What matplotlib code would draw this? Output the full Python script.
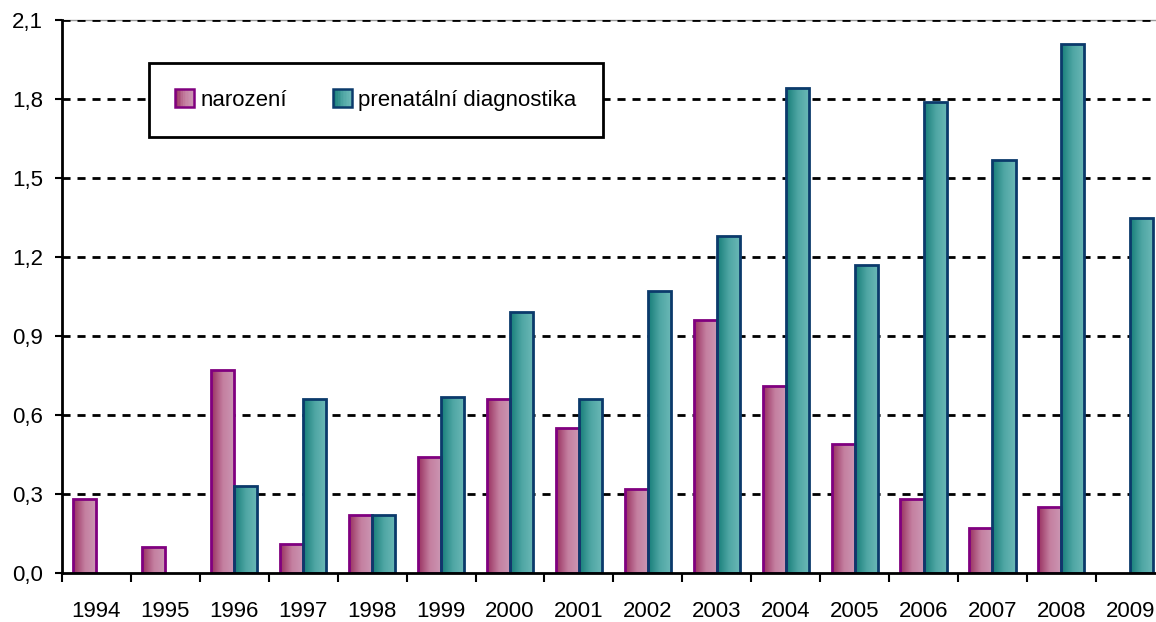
import matplotlib
matplotlib.use("Agg")
import matplotlib.pyplot as plt
import numpy as np
from matplotlib.colors import LinearSegmentedColormap
from matplotlib.legend_handler import HandlerBase
from matplotlib.patches import Rectangle
from matplotlib.ticker import FuncFormatter

plt.rcParams['font.family'] = ['Liberation Sans', 'DejaVu Sans']

years = ['1994', '1995', '1996', '1997', '1998', '1999', '2000', '2001',
         '2002', '2003', '2004', '2005', '2006', '2007', '2008', '2009']
narozeni = [0.28, 0.10, 0.77, 0.11, 0.22, 0.44, 0.66, 0.55,
            0.32, 0.96, 0.71, 0.49, 0.28, 0.17, 0.25, 0.0]
prenatalni = [0.0, 0.0, 0.33, 0.66, 0.22, 0.67, 0.99, 0.66,
              1.07, 1.28, 1.84, 1.17, 1.79, 1.57, 2.01, 1.35]
labels = ['narození', 'prenatální diagnostika']

# barvy: přechod zleva (tmavší) doprava (světlejší)
pink_cmap = LinearSegmentedColormap.from_list('pink', ['#98305f', '#c47fa0', '#cc98b4'])
teal_cmap = LinearSegmentedColormap.from_list('teal', ['#167d78', '#4fa6a4', '#6cb9b7'])
pink_edge = '#80007f'
teal_edge = '#0b3a6b'

fig = plt.figure(figsize=(11.56, 6.22), dpi=100)
ax = fig.add_axes([0.0536, 0.0788, 0.954, 0.889])

x = np.arange(len(years))
w = 0.335
grad = np.linspace(0, 1, 64).reshape(1, -1)


def gradient_bars(xpos, vals, cmap, edge):
    bars = ax.bar(xpos, vals, w, color='none', edgecolor=edge, linewidth=2.0, zorder=4)
    for b in bars:
        if b.get_height() <= 0:
            b.set_visible(False)
            continue
        x0, y0 = b.get_x(), b.get_y()
        im = ax.imshow(grad, cmap=cmap, aspect='auto', interpolation='bilinear',
                       extent=(x0, x0 + b.get_width(), y0, y0 + b.get_height()), zorder=3)
        im.set_clip_path(b)
    return bars


gradient_bars(x - w / 2, narozeni, pink_cmap, pink_edge)
gradient_bars(x + w / 2, prenatalni, teal_cmap, teal_edge)

ax.set_xlim(-0.5, len(years) - 0.5)
ax.set_ylim(0, 2.1)

# mřížka
for v in np.arange(0.3, 2.11, 0.3):
    ax.axhline(v, color='black', lw=2.0, linestyle=(0, (2.9, 2.5)), zorder=2)
ax.axhline(2.1, color='#9a9a9a', lw=1.0, zorder=1, clip_on=False)

for s in ['top', 'right']:
    ax.spines[s].set_visible(False)
ax.spines['left'].set_linewidth(2)
ax.spines['bottom'].set_linewidth(2)
ax.spines['left'].set_zorder(5)
ax.spines['bottom'].set_zorder(5)

ax.set_yticks(np.arange(0, 2.11, 0.3))
ax.yaxis.set_major_formatter(FuncFormatter(lambda v, p: f'{v:.1f}'.replace('.', ',')))
ax.tick_params(axis='y', direction='out', length=5, width=1.5, labelsize=16, pad=8.5)

ax.set_xticks(x)
ax.set_xticklabels(years)
ax.set_xticks(np.arange(-0.5, len(years) - 0.4, 1), minor=True)
ax.tick_params(axis='x', which='major', length=0, labelsize=16, pad=20)
ax.tick_params(axis='x', which='minor', direction='out', length=6.5, width=1.5)


class GradientHandler(HandlerBase):
    def __init__(self, cmap, edge):
        super().__init__()
        self.cmap = cmap
        self.edge = edge

    def create_artists(self, legend, orig_handle, xdescent, ydescent,
                       width, height, fontsize, trans):
        n = 12
        arts = []
        for i in range(n):
            r = Rectangle((-xdescent + width * i / n, -ydescent), width / n + 0.3, height,
                          facecolor=self.cmap(i / (n - 1)), edgecolor='none', transform=trans)
            arts.append(r)
        arts.append(Rectangle((-xdescent, -ydescent), width, height, facecolor='none',
                              edgecolor=self.edge, linewidth=1.8, transform=trans))
        return arts


h1 = Rectangle((0, 0), 1, 1)
h2 = Rectangle((0, 0), 1, 1)
leg = ax.legend([h1, h2], labels, ncol=2, loc='upper left',
                bbox_to_anchor=(0.0789, 0.922), fontsize=16,
                handler_map={h1: GradientHandler(pink_cmap, pink_edge),
                             h2: GradientHandler(teal_cmap, teal_edge)},
                handlelength=0.85, handleheight=0.85, handletextpad=0.27,
                columnspacing=2.1, borderpad=1.18, borderaxespad=0,
                fancybox=False, framealpha=1, edgecolor='black')
leg.get_frame().set_linewidth(2)
leg.set_zorder(6)

fig.savefig('out.png', dpi=100)
